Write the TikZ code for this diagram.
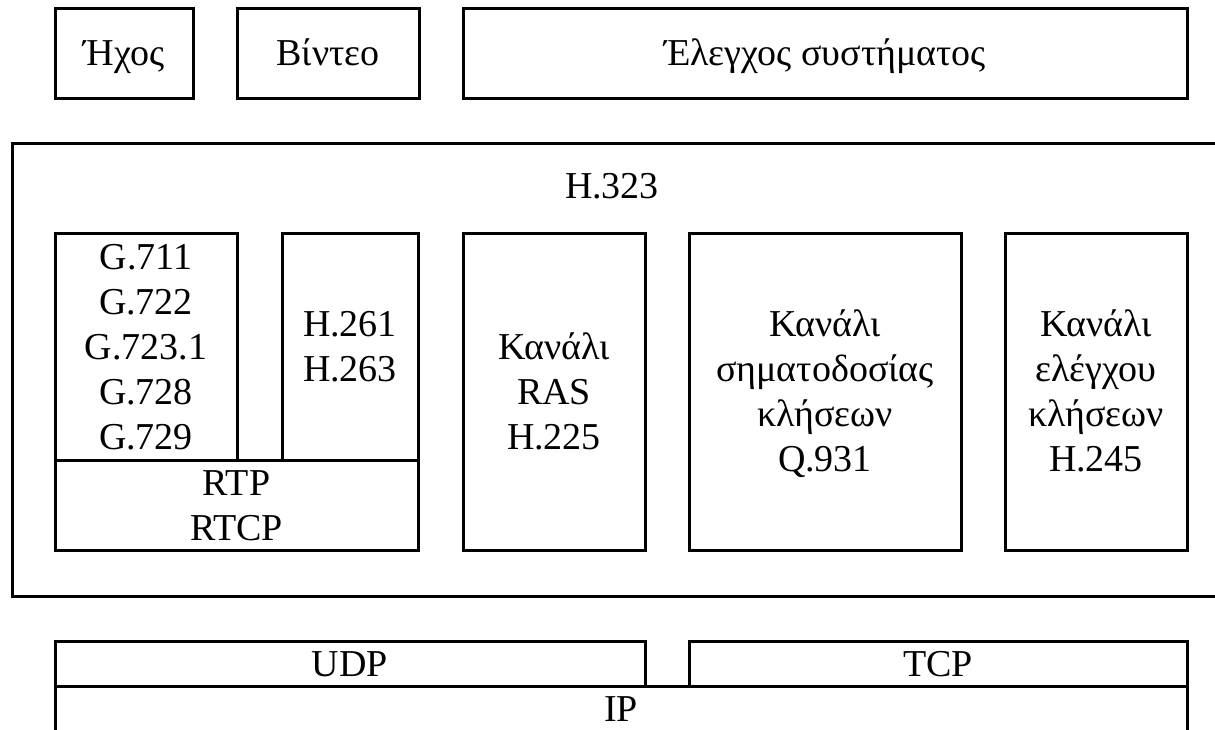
\documentclass[tikz,border=0pt]{standalone}
\usepackage{fontspec}
\setmainfont{Liberation Serif}
\begin{document}
\begin{tikzpicture}[x=1pt,y=-1pt,
  % text is centred between the cap line of the first row and the last baseline
  txt/.style={inner sep=0pt, align=center, text height=25.2pt, text depth=0pt,
    font=\fontsize{38}{45}\selectfont},
  rows/.style={text height=#1},
  blk/.style={txt, draw=black, line width=3pt}]
\useasboundingbox[fill=white] (0,0) rectangle (1215,729);

% application layer
\node[blk, minimum width=138pt, minimum height=90pt] (audio) at (124,53) {Ήχος};
\node[blk, minimum width=182pt, minimum height=90pt] (video) at (328,53) {Βίντεο};
\node[blk, minimum width=724pt, minimum height=90pt] (sysctl) at (825,53) {Έλεγχος συστήματος};

% H.323 frame
\node[blk, minimum width=1213pt, minimum height=453pt] (h323) at (618.5,369.5) {};
\node[txt] (h323title) at (612,186) {H.323};

% media codecs and transport
\node[blk, rows=205.2pt, minimum width=182pt, minimum height=227pt] (acodec) at (146,346.5)
  {G.711\\G.722\\G.723.1\\G.728\\G.729};
\node[blk, rows=70.2pt, minimum width=136pt, minimum height=227pt] (vcodec) at (350,346.5)
  {H.261\\H.263};
\node[blk, rows=70.2pt, minimum width=363pt, minimum height=90pt] (rtp) at (236.5,505)
  {RTP\\RTCP};

% signalling channels
\node[blk, rows=115.2pt, minimum width=182pt, minimum height=317pt] (ras) at (554,391.5)
  {Κανάλι\\RAS\\H.225};
\node[blk, rows=160.2pt, minimum width=272pt, minimum height=317pt] (sig) at (825,391.5)
  {Κανάλι\\σηματοδοσίας\\κλήσεων\\Q.931};
\node[blk, rows=160.2pt, minimum width=182pt, minimum height=317pt] (ctl) at (1096,391.5)
  {Κανάλι\\ελέγχου\\κλήσεων\\H.245};

% transport and network layers
\node[blk, minimum width=590pt, minimum height=45pt] (udp) at (350,663.5) {UDP};
\node[blk, minimum width=498pt, minimum height=45pt] (tcp) at (938,663.5) {TCP};
\node[blk, minimum width=1132pt, minimum height=45pt] (ip) at (621,708.5) {IP};
\end{tikzpicture}
\end{document}
